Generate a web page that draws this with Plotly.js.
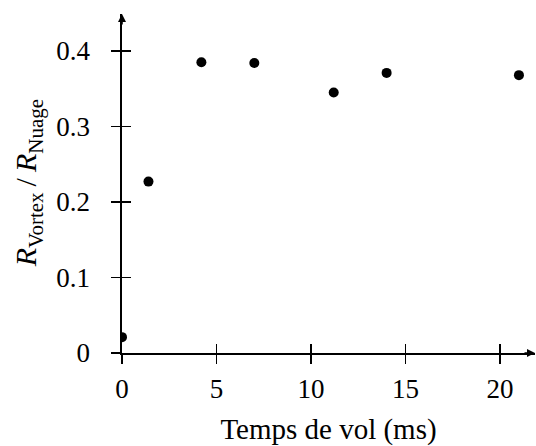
<!DOCTYPE html>
<html>
<head>
<meta charset="utf-8">
<script src="https://cdn.plot.ly/plotly-3.0.1.min.js"></script>
<style>html,body{margin:0;padding:0;background:#fff;}#chart{width:536px;height:446px;}</style>
</head>
<body>
<div id="chart"></div>
<script>
const flightTime = [0, 1.4, 4.2, 7.0, 11.2, 14.0, 21.0];
const radiusRatio = [0.021, 0.227, 0.385, 0.384, 0.345, 0.371, 0.368];
const xTicks = [0, 5, 10, 15, 20];
const yTicks = [0, 0.1, 0.2, 0.3, 0.4];
const yTickText = ['0', '0.1', '0.2', '0.3', '0.4'];
const xTitle = 'Temps de vol (ms)';
const yTitle = '<i>R</i><sub>Vortex</sub>\u2009/\u2009<i>R</i><sub>Nuage</sub>';

const FONT = 'Liberation Serif';
const xRange = [0, 21.85];
const yRange = [0, 0.449];

const trace = {
  x: flightTime, y: radiusRatio, type: 'scatter', mode: 'markers',
  marker: {color: '#000', size: 10}, hoverinfo: 'skip', showlegend: false
};
const ghost = {x: xRange, y: yRange, xaxis: 'x2', yaxis: 'y2', type: 'scatter', mode: 'markers',
  marker: {opacity: 0, size: 1}, showlegend: false, hoverinfo: 'skip'};

const layout = {
  width: 536, height: 446,
  margin: {l: 122, r: 1, t: 14, b: 93},
  paper_bgcolor: '#fff', plot_bgcolor: '#fff',
  font: {family: FONT, size: 27, color: '#000'},
  xaxis: {
    range: xRange, tickvals: xTicks, ticktext: xTicks.map(String),
    ticks: 'outside', ticklen: 9, tickwidth: 1.6, tickcolor: '#000',
    tickfont: {family: FONT, size: 27, color: '#000'},
    showline: true, linewidth: 1.6, linecolor: '#000',
    showgrid: false, zeroline: false, ticklabelstandoff: 2,
    title: {text: xTitle, font: {family: FONT, size: 29, color: '#000'}, standoff: 16},
    fixedrange: true
  },
  yaxis: {
    range: yRange, tickvals: yTicks, ticktext: yTickText,
    ticks: 'outside', ticklen: 9, tickwidth: 1.6, tickcolor: '#000',
    tickfont: {family: FONT, size: 27, color: '#000'},
    showline: true, linewidth: 1.6, linecolor: '#000',
    showgrid: false, zeroline: false, ticklabelstandoff: 16,
    fixedrange: true
  },
  xaxis2: {overlaying: 'x', anchor: 'y2', side: 'bottom', range: xRange, tickvals: xTicks,
    showticklabels: false, ticks: 'inside', ticklen: 9, tickwidth: 1.6, tickcolor: '#000',
    showgrid: false, zeroline: false, showline: false, fixedrange: true},
  yaxis2: {overlaying: 'y', anchor: 'x2', side: 'left', range: yRange, tickvals: yTicks,
    showticklabels: false, ticks: 'inside', ticklen: 9, tickwidth: 1.6, tickcolor: '#000',
    showgrid: false, zeroline: false, showline: false, fixedrange: true},
  annotations: [
    {xref: 'paper', yref: 'paper', x: 1, y: 0, ax: -12, ay: 0, text: '',
     showarrow: true, arrowhead: 2, arrowsize: 1, arrowwidth: 1.6, arrowcolor: '#000'},
    {xref: 'paper', yref: 'paper', x: 0, y: 1, ax: 0, ay: 12, text: '',
     showarrow: true, arrowhead: 2, arrowsize: 1, arrowwidth: 1.6, arrowcolor: '#000'},
    {xref: 'paper', yref: 'paper', x: -0.228, y: 0.5, text: yTitle, textangle: -90,
     showarrow: false, font: {family: FONT, size: 30, color: '#000'}, xanchor: 'center', yanchor: 'middle'}
  ]
};

Plotly.newPlot('chart', [trace, ghost], layout, {staticPlot: true});
</script>
</body>
</html>
